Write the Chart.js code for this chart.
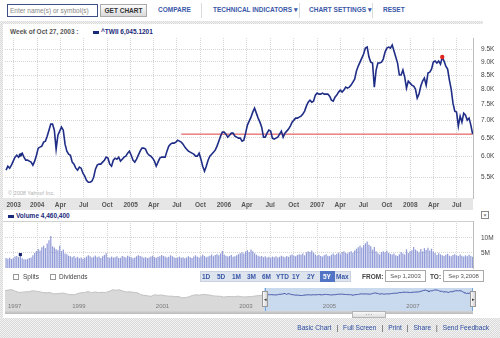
<!DOCTYPE html>
<html>
<head>
<meta charset="utf-8">
<title>^TWII</title>
<script src="https://cdn.jsdelivr.net/npm/chart.js@4.4.1/dist/chart.umd.min.js"></script>
<style>
  * { box-sizing: border-box; }
  body { margin: 0; width: 500px; height: 338px; overflow: hidden; position: relative; background: #fff;
         font-family: "Liberation Sans", Arial, sans-serif; color: #333; }
  .a { position: absolute; white-space: nowrap; }
  .tool { top: 6px; font-size: 6.5px; font-weight: bold; color: #3a58a8; }
  .sep { top: 3px; width: 1px; height: 15px; background: #dcdcdc; }
  .checker { background: repeating-conic-gradient(#d9d9d9 0 25%, #f3f3f3 0 50%) 0 0 / 2px 2px; }
  canvas { position: absolute; }
  .rng { top: 273px; font-size: 6.5px; font-weight: bold; color: #3a58a8; }
  .box { border: 1px solid #a9a9a9; background: #fff; font-size: 6px; color: #555; text-align: center; line-height: 10px; height: 12px; }
  .cb { width: 6px; height: 6px; border: 1px solid #999; background: #fff; top: 274px; }
  .foot { top: 324px; right: 11px; font-size: 6.6px; color: #2a4ba0; }
  .foot b { color: #333; margin: 0 5px; font-weight: normal; }
</style>
</head>
<body>

<!-- toolbar -->
<div class="a" style="left:7px;top:4px;width:91px;height:13px;border:1px solid #3d4f86;font-size:6.5px;color:#888;line-height:11px;padding-left:2px;">Enter name(s) or symbol(s)</div>
<div class="a" style="left:100px;top:4px;width:47px;height:13px;border:1px solid #aaa;background:linear-gradient(#fcfcfc,#d9d9d9);font-size:6.5px;font-weight:bold;color:#333;text-align:center;line-height:11px;">GET CHART</div>
<div class="a tool" style="left:158px;">COMPARE</div>
<div class="a sep" style="left:201px;"></div>
<div class="a tool" style="left:213px;">TECHNICAL INDICATORS ▾</div>
<div class="a sep" style="left:299px;"></div>
<div class="a tool" style="left:309px;">CHART SETTINGS ▾</div>
<div class="a sep" style="left:372px;"></div>
<div class="a tool" style="left:383px;">RESET</div>

<!-- frame -->
<div class="a checker" style="left:0;top:21px;width:483px;height:3px;"></div>
<div class="a checker" style="left:0;top:21px;width:3px;height:297px;"></div>

<div class="a" style="left:10px;top:28px;font-size:6.5px;font-weight:bold;color:#555;">Week of Oct 27, 2003 :</div>
<div class="a" style="left:93px;top:31px;width:6px;height:3px;background:#1a2a7a;"></div>
<div class="a" style="left:101px;top:28px;font-size:6.5px;font-weight:bold;color:#1a2a7a;" id="quote"></div>

<!-- date band under price plot -->
<div class="a" style="left:3px;top:198px;width:470px;height:12px;background:#e6e6e6;"></div>
<div class="a" style="left:8px;top:190px;font-size:5.5px;color:#b0b0b0;">© 2008 Yahoo! Inc.</div>
<canvas id="price" width="500" height="177" style="left:0;top:34px;width:500px;height:177px;"></canvas>

<!-- volume -->
<div class="a" style="left:8px;top:215px;width:6px;height:3px;background:#1a2a7a;"></div>
<div class="a" style="left:16px;top:212px;font-size:6.5px;font-weight:bold;color:#1a2a7a;" id="volq"></div>
<div class="a" style="left:481px;top:211px;width:8px;height:8px;border:1px solid #888;font-size:6px;line-height:6px;text-align:center;color:#555;">×</div>
<div class="a" style="left:3px;top:221px;width:470px;height:1px;background:#cfcfcf;"></div>
<canvas id="volume" width="500" height="55" style="left:0;top:217px;width:500px;height:55px;"></canvas>

<!-- controls -->
<div class="a cb" style="left:13px;"></div>
<div class="a" style="left:23px;top:273px;font-size:6.5px;color:#444;">Splits</div>
<div class="a cb" style="left:50px;"></div>
<div class="a" style="left:59px;top:273px;font-size:6.5px;color:#444;">Dividends</div>

<div class="a" style="left:200px;top:271px;width:151px;height:11px;background:#dde4ee;border:1px solid #c9d2de;"></div>
<div class="a" style="left:320px;top:271px;width:15px;height:11px;background:#5175c4;"></div>
<div class="a rng" style="left:202px;">1D</div>
<div class="a rng" style="left:217px;">5D</div>
<div class="a rng" style="left:232px;">1M</div>
<div class="a rng" style="left:247px;">3M</div>
<div class="a rng" style="left:262px;">6M</div>
<div class="a rng" style="left:276px;">YTD</div>
<div class="a rng" style="left:292px;">1Y</div>
<div class="a rng" style="left:307px;">2Y</div>
<div class="a rng" style="left:323px;color:#fff;">5Y</div>
<div class="a rng" style="left:336px;">Max</div>

<div class="a" style="left:362px;top:273px;font-size:6.5px;font-weight:bold;color:#444;">FROM:</div>
<div class="a box" style="left:385px;top:270px;width:41px;">Sep 1,2003</div>
<div class="a" style="left:430px;top:273px;font-size:6.5px;font-weight:bold;color:#444;">TO:</div>
<div class="a box" style="left:443px;top:270px;width:41px;">Sep 3,2008</div>

<!-- navigator -->
<canvas id="nav" width="468" height="23" style="left:5px;top:288px;width:468px;height:23px;"></canvas>
<div class="a" style="left:265px;top:288px;width:1px;height:23px;background:#6fa6dc;"></div>
<div class="a" style="left:472px;top:288px;width:1px;height:23px;background:#6fa6dc;"></div>
<div class="a" style="left:262px;top:291px;width:6px;height:16px;border:1px solid #999;background:linear-gradient(90deg,#fafafa,#d5d5d5);font-size:5px;line-height:14px;text-align:center;color:#333;">◂</div>
<div class="a" style="left:470px;top:291px;width:6px;height:16px;border:1px solid #999;background:linear-gradient(90deg,#fafafa,#d5d5d5);font-size:5px;line-height:14px;text-align:center;color:#333;">▸</div>
<div class="a" style="left:5px;top:311px;width:468px;height:3px;background:linear-gradient(#d4d4d4,#b9b9b9);"></div>
<div class="a" style="left:352px;top:311px;width:34px;height:7px;border:1px solid #b5b5b5;background:linear-gradient(#f8f8f8,#dedede);font-size:4px;line-height:5px;text-align:center;color:#999;">• • •</div>

<!-- footer -->
<div class="a checker" style="left:0;top:318px;width:500px;height:20px;"></div>
<div class="a foot">Basic Chart<b>|</b>Full Screen<b>|</b>Print<b>|</b>Share<b>|</b>Send Feedback</div>

<script>
// weekly closes of ^TWII, week 0 = Sep 1 2003
const closes = [
  5664, 5762, 5713, 5787, 5887, 5988, 6039, 5988, 6045.1201, 6091,
  5988, 5912, 5912, 5887, 5862, 5787, 5887, 6039, 6223, 6250,
  6277, 6385, 6412, 6550, 6720, 6896, 6896, 6720, 6196, 6578,
  6692, 6808, 6720, 6330, 6144, 6065, 6039, 5862, 5812, 5713,
  5664, 5738, 5713, 5592, 5521, 5427, 5381, 5381, 5404, 5497,
  5689, 5787, 5812, 5812, 5862, 5912, 5988, 5963, 5812, 5762,
  5912, 5963, 5937, 5988, 5887, 5937, 5988, 6014, 6091, 6144,
  6039, 5912, 5862, 5937, 6039, 6144, 6223, 6223, 6196, 6091,
  6039, 6014, 5963, 5887, 5762, 5862, 5963, 5988, 5988, 5988,
  6144, 6277, 6330, 6357, 6357, 6385, 6439, 6412, 6385, 6330,
  6250, 6196, 6144, 6117, 6091, 6065, 6014, 6014, 6091, 5937,
  5762, 5640, 5762, 5912, 6014, 6065, 6117, 6170, 6277, 6412,
  6550, 6663, 6663, 6607, 6522, 6578, 6635, 6635, 6550, 6522,
  6495, 6495, 6412, 6439, 6635, 6866, 6984, 7105, 7258, 7383,
  7227, 7075, 6955, 6808, 6522, 6522, 6635, 6720, 6692, 6495,
  6467, 6495, 6522, 6607, 6692, 6522, 6635, 6692, 6749, 6837,
  6955, 7014, 7075, 7075, 7105, 7135, 7196, 7289, 7446, 7574,
  7639, 7574, 7607, 7805, 7872, 7838, 7838, 7872, 7838, 7838,
  7838, 7772, 7639, 7607, 7738, 7805, 7906, 7973, 7906, 7973,
  8076, 8042, 8076, 8145, 8250, 8357, 8648, 8835, 8987, 9142,
  9299, 9541, 9581, 9181, 8987, 8949, 8076, 8685, 8949, 8949,
  8987, 9103, 9379, 9541, 9581, 9541, 9663, 9419, 9181, 8949,
  8502, 8502, 8685, 8429, 8042, 8286, 8215, 8145, 8111, 8007,
  7705, 7838, 8111, 8286, 8393, 8145, 8574, 8611, 8722, 8987,
  9025, 8949, 9025, 8910, 9181, 9025, 8835, 8722, 8321, 8007,
  7542, 7289, 7258, 6837, 7135, 6955, 7227, 7166, 7014, 7075,
  6866, 6607
];

// weekly volume, millions of shares
const volumes = [
  3.3, 3.1, 3.4, 3.0, 3.2, 3.8, 4.0, 3.6, 4.4604, 3.2,
  2.9, 2.8, 3.0, 3.3, 3.5, 4.2, 5.0, 5.6, 6.3, 5.8,
  6.9, 7.4, 6.6, 8.1, 9.2, 10.6, 7.2, 6.8, 6.2, 5.9,
  7.4, 5.6, 6.1, 4.8, 4.6, 4.1, 3.9, 3.6, 4.0, 3.4,
  3.7, 3.2, 3.5, 3.1, 3.4, 3.8, 4.2, 3.9, 3.5, 3.7,
  4.1, 3.6, 3.8, 3.3, 3.9, 4.3, 4.9, 3.6, 3.4, 3.8,
  3.5, 3.6, 3.9, 3.3, 3.4, 4.0, 3.7, 3.5, 4.1, 3.8,
  3.6, 3.2, 3.5, 3.9, 4.2, 4.0, 3.7, 3.4, 3.6, 3.3,
  3.5, 3.8, 4.1, 3.6, 3.4, 3.7, 3.9, 4.3, 4.0, 3.8,
  3.5, 3.7, 4.2, 3.9, 3.6, 3.3, 3.5, 3.8, 3.4, 3.6,
  3.2, 3.5, 3.9, 3.6, 3.3, 3.8, 4.2, 3.7, 3.5, 3.9,
  4.4, 4.0, 3.6, 3.8, 4.1, 4.5, 3.9, 4.3, 4.6, 4.2,
  4.8, 5.7, 4.5, 4.1, 3.8, 4.0, 4.3, 3.7, 3.9, 4.2,
  4.6, 4.9, 5.2, 4.8, 5.5, 5.9, 5.3, 6.1, 5.6, 4.9,
  4.4, 4.1, 3.8, 4.0, 3.6, 3.9, 3.5, 3.7, 3.4, 3.8,
  3.6, 3.9, 3.5, 3.7, 4.1, 3.8, 3.6, 4.0, 3.7, 4.2,
  4.5, 4.1, 3.9, 4.3, 4.6, 4.4, 4.8, 4.2, 5.2, 5.6,
  5.3, 5.8, 5.1, 4.5, 4.1, 4.4, 4.0, 3.8, 4.2, 4.6,
  4.1, 3.9, 4.4, 4.8, 4.3, 4.7, 5.1, 4.6, 5.3, 5.6,
  5.0, 4.8, 5.3, 5.6, 5.1, 5.8, 6.4, 6.9, 7.4, 6.8,
  7.6, 8.2, 8.8, 7.7, 7.2, 6.1, 7.0, 5.6, 4.9, 4.5,
  5.3, 5.6, 5.2, 5.7, 5.0, 4.7, 4.5, 4.8, 4.2, 4.0,
  4.6, 5.3, 4.8, 4.5, 6.2, 5.0, 5.6, 5.9, 7.0, 6.1,
  5.7, 5.2, 6.3, 5.5, 6.6, 6.0, 6.7, 5.8, 6.4, 5.5,
  5.0, 4.3, 4.9, 4.5, 4.2, 4.0, 4.4, 4.7, 4.1, 3.9,
  4.3, 4.6, 4.2, 4.0, 4.5, 4.1, 3.8, 4.2, 3.9, 4.4,
  4.0, 3.7
];

// monthly closes for the overview strip, Jun 1997 .. Aug 2003
const historyCloses = [
  9030, 9500, 9900, 8700, 7800, 7900, 8187,
  8300, 9000, 8700, 8300, 7600, 7500, 7700, 6700, 6800, 7100, 7200, 6418,
  6100, 5900, 6900, 7500, 7600, 8400, 7500, 8100, 7600, 7800, 7700, 8448,
  9700, 9400, 9800, 8700, 8100, 8200, 7800, 7600, 6200, 5500, 5200, 4739,
  5900, 5600, 5800, 5300, 4900, 4900, 4500, 4600, 3600, 3900, 4400, 5551,
  5900, 5700, 6200, 6000, 5700, 5100, 4900, 4800, 4200, 4600, 4700, 4452,
  4900, 4500, 4300, 4500, 4600, 5000, 5300, 5600
];

const quarterLabels = ['2003', '2004', 'Apr', 'Jul', 'Oct', '2005', 'Apr', 'Jul', 'Oct', '2006',
                       'Apr', 'Jul', 'Oct', '2007', 'Apr', 'Jul', 'Oct', '2008', 'Apr', 'Jul'];
const priceTicks = [5500, 6000, 6500, 7000, 7500, 8000, 8500, 9000, 9500];
const volumeTicks = [5, 10];
const navLabels = ['1997', '1999', '2001', '2003', '2005', '2007'];

const hoverWeek = 8;
const peakWeek = 244;
const baselineFromWeek = 98;

const start = new Date(2003, 8, 1);
const weekOf = d => (d - start) / (7 * 864e5);
const quarterWeeks = quarterLabels.map((_, i) => weekOf(new Date(2003, 9 + 3 * i, 1)));
const navDividers = [1999, 2001, 2003, 2005, 2007].map(y => weekOf(new Date(y, 0, 1)));
const last = closes[closes.length - 1];

document.getElementById('quote').textContent = '^TWII ' + closes[hoverWeek].toLocaleString('en-US', {minimumFractionDigits: 4});
document.getElementById('volq').textContent = 'Volume ' + Math.round(volumes[hoverWeek] * 1e6).toLocaleString('en-US');

Chart.defaults.font.family = '"Liberation Sans", Arial, sans-serif';
Chart.defaults.animation = false;
Chart.defaults.plugins.legend.display = false;
Chart.defaults.plugins.tooltip.enabled = false;

const X_MIN = -0.6, X_MAX = 261.2;
const dotted = { display: false, dash: [1, 1] };

const quarterAxis = (showLabels, height) => ({
  type: 'linear', min: X_MIN, max: X_MAX, offset: false,
  afterBuildTicks: s => { s.ticks = quarterWeeks.map(v => ({ value: v })); },
  afterFit: s => { s.height = height; },
  grid: { color: '#d6d6d6', drawTicks: false, offset: false }, border: dotted,
  ticks: { display: showLabels, autoSkip: false, maxRotation: 0, padding: 3,
           font: { size: 6.5, weight: 'bold' }, color: '#555',
           callback: (v, i) => quarterLabels[i] }
});

// right-hand value axis; the invisible tick marks give the label gap
const valueAxis = extra => Object.assign({
  position: 'right',
  afterFit: s => { s.width = 27; },
  grid: { color: '#d6d6d6', drawTicks: true, tickLength: 8, tickColor: 'rgba(0,0,0,0)' },
  border: { display: true, color: '#bdbdbd', dash: [1, 1] }
}, extra);

new Chart(document.getElementById('price'), {
  type: 'line',
  data: {
    datasets: [
      { data: [{ x: hoverWeek, y: closes[hoverWeek] }], type: 'scatter', pointRadius: 1.8,
        backgroundColor: '#1a2a7a', borderWidth: 0 },
      { data: [{ x: peakWeek, y: closes[peakWeek] }], type: 'scatter', pointRadius: 2.2,
        backgroundColor: '#e3241f', borderWidth: 0 },
      { data: closes.map((c, i) => ({ x: i, y: c })), borderColor: '#1f2d86', borderWidth: 1.6,
        pointRadius: 0, tension: 0 },
      { data: [{ x: baselineFromWeek, y: last }, { x: closes.length - 1, y: last }],
        borderColor: '#dd4040', borderWidth: 1, pointRadius: 0 }
    ]
  },
  options: {
    responsive: false, devicePixelRatio: 1,
    layout: { padding: { left: 5, top: 0, right: 0, bottom: 0 } },
    scales: {
      x: quarterAxis(true, 13),
      y: valueAxis({
        type: 'logarithmic', min: 5030, max: 9960,
        afterBuildTicks: s => { s.ticks = priceTicks.map(v => ({ value: v })); },
        ticks: { padding: 0, crossAlign: 'near', font: { size: 6.5 }, color: '#444',
                 callback: v => (v / 1000).toFixed(1) + 'K' }
      })
    }
  }
});

new Chart(document.getElementById('volume'), {
  type: 'bar',
  data: {
    datasets: [
      { type: 'scatter', data: [{ x: hoverWeek, y: volumes[hoverWeek] }], pointStyle: 'rect',
        pointRadius: 2.2, backgroundColor: '#14206a', borderWidth: 0 },
      { data: volumes.map((v, i) => ({ x: i, y: v })), backgroundColor: '#929cd8',
        barPercentage: 0.7, categoryPercentage: 1 }
    ]
  },
  options: {
    responsive: false, devicePixelRatio: 1,
    layout: { padding: { left: 5, top: 0, right: 0, bottom: 0 } },
    scales: {
      x: quarterAxis(false, 0),
      y: valueAxis({
        min: 0, max: 15.6,
        afterBuildTicks: s => { s.ticks = volumeTicks.map(v => ({ value: v })); },
        ticks: { padding: 0, crossAlign: 'near', font: { size: 6.5 }, color: '#444',
                 callback: v => v + 'M' }
      })
    }
  }
});

// overview strip: gray history, blue selected window
const navWindow = {
  id: 'navWindow',
  beforeDatasetsDraw(chart) {
    const { ctx, chartArea: a, scales: { x } } = chart;
    const x0 = x.getPixelForValue(0);
    ctx.save();
    ctx.fillStyle = '#c9d9ee';
    ctx.fillRect(x0, a.top, a.right - x0, a.bottom - a.top);
    ctx.restore();
  },
  afterDraw(chart) {
    const { ctx, chartArea: a, scales: { x } } = chart;
    ctx.save();
    ctx.font = '6px "Liberation Sans", Arial, sans-serif';
    ctx.fillStyle = '#7a7a7a';
    navLabels.forEach((t, i) => {
      const px = i === 0 ? a.left : x.getPixelForValue(navDividers[i - 1]);
      ctx.fillText(t, px + 3, a.bottom - 3);
    });
    ctx.restore();
  }
};

const history = historyCloses.map((c, i) => ({ x: weekOf(new Date(1997, 5 + i, 15)), y: c }));
history.push({ x: 0, y: closes[0] });

new Chart(document.getElementById('nav'), {
  type: 'line',
  data: {
    datasets: [
      { data: history, fill: 'start', backgroundColor: '#d9d9d9', borderColor: '#c2c2c2',
        borderWidth: 1, pointRadius: 0 },
      { data: closes.map((c, i) => ({ x: i, y: c })), borderColor: '#4456a8', borderWidth: 1,
        pointRadius: 0 }
    ]
  },
  options: {
    responsive: false, devicePixelRatio: 1,
    layout: { padding: 0 },
    scales: {
      x: {
        type: 'linear', min: weekOf(new Date(1997, 5, 18)), max: X_MAX, z: 1,
        afterBuildTicks: s => { s.ticks = navDividers.map(v => ({ value: v })); },
        afterFit: s => { s.height = 0; },
        grid: { color: '#ffffff', lineWidth: 1.5, drawTicks: false },
        border: { display: false },
        ticks: { display: false }
      },
      y: { display: false, min: -6400, max: 11100 }
    }
  },
  plugins: [navWindow]
});
</script>
</body>
</html>
